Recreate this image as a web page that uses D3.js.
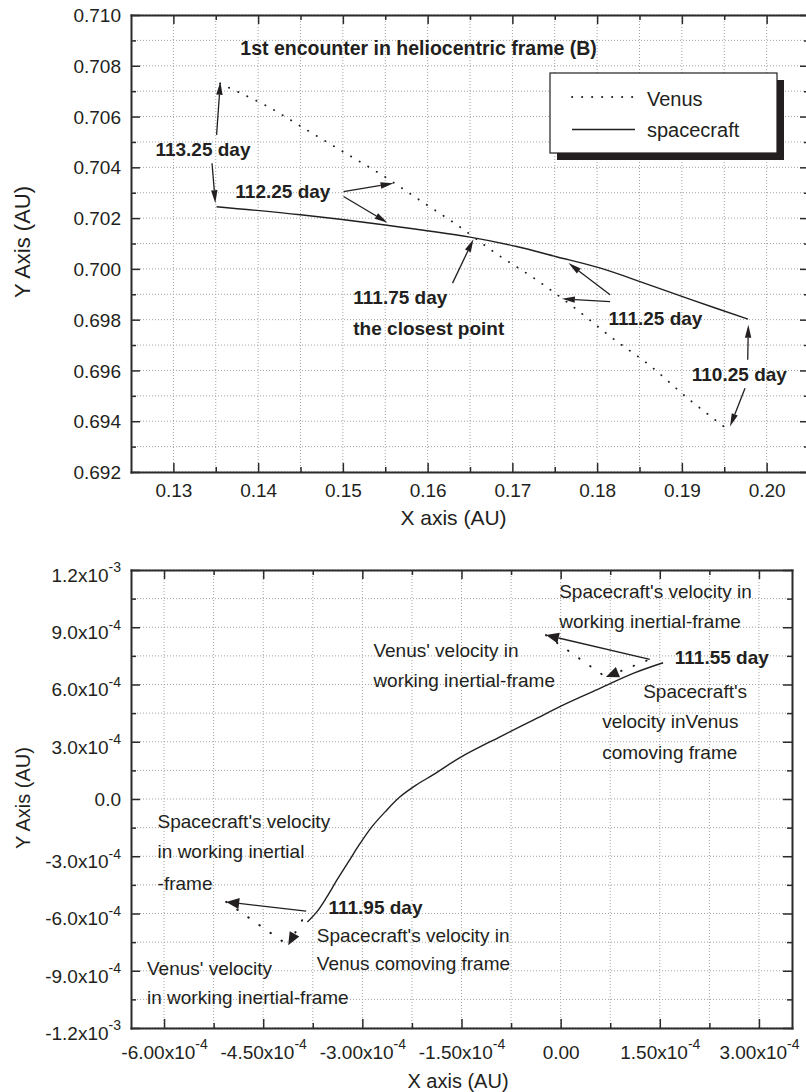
<!DOCTYPE html>
<html>
<head>
<meta charset="utf-8">
<script src="https://cdn.jsdelivr.net/npm/d3@7"></script>
<style>
  body { margin: 0; background: #fff; }
  svg { display: block; }
  text { font-family: 'Liberation Sans', Arial, Helvetica, sans-serif; fill: #231f20; }
  .grid line { stroke: #a3a3a3; stroke-width: 1; stroke-dasharray: 1 2; }
  .frame path.domain { stroke: #2b2b2b; stroke-width: 2; stroke-linecap: square; }
  .frame .tick line { stroke: #2b2b2b; stroke-width: 1.5; }
</style>
</head>
<body>
<svg class="chart" width="806" height="1092"></svg>
<script>
const chart = d3.select('.chart');

// top panel, heliocentric positions (AU)
const venusX = [0.1355, 0.1411, 0.1456, 0.1501, 0.1546, 0.1591, 0.1636, 0.1681, 0.1727, 0.1772, 0.1817, 0.1862, 0.1907, 0.1953];
const venusY = [0.7073, 0.7064, 0.7055, 0.7046, 0.7037, 0.7027, 0.7017, 0.7006, 0.6996, 0.6985, 0.6973, 0.6962, 0.6949, 0.6937];
const craftX = [0.1351, 0.1450, 0.1550, 0.1650, 0.1705, 0.1752, 0.1804, 0.1843, 0.1910, 0.1978];
const craftY = [0.70245, 0.70213, 0.70173, 0.70125, 0.70088, 0.70048, 0.70003, 0.69959, 0.69880, 0.69802];
const topXTicks = [0.13, 0.14, 0.15, 0.16, 0.17, 0.18, 0.19, 0.20];
const topXMinor = [0.135, 0.145, 0.155, 0.165, 0.175, 0.185, 0.195];
const topXLabels = ['0.13', '0.14', '0.15', '0.16', '0.17', '0.18', '0.19', '0.20'];
const topYTicks = [0.692, 0.694, 0.696, 0.698, 0.700, 0.702, 0.704, 0.706, 0.708, 0.710];
const topYMinor = [0.693, 0.695, 0.697, 0.699, 0.701, 0.703, 0.705, 0.707, 0.709];
const topYLabels = ['0.692', '0.694', '0.696', '0.698', '0.700', '0.702', '0.704', '0.706', '0.708', '0.710'];

// bottom panel, spacecraft relative to Venus (AU)
const relX = [-3.831e-4, -3.689e-4, -3.537e-4, -3.386e-4, -3.211e-4, -3.034e-4, -2.857e-4, -2.656e-4, -2.430e-4, -2.188e-4, -1.926e-4, -1.523e-4, -0.918e-4, -0.415e-4, 0.090e-4, 0.594e-4, 1.097e-4, 1.550e-4];
const relY = [-6.442e-4, -5.917e-4, -5.131e-4, -4.255e-4, -3.296e-4, -2.331e-4, -1.460e-4, -0.674e-4, 0.113e-4, 0.727e-4, 1.274e-4, 2.168e-4, 3.259e-4, 4.135e-4, 5.010e-4, 5.797e-4, 6.583e-4, 7.139e-4];
const botXTicks = [-6e-4, -4.5e-4, -3e-4, -1.5e-4, 0, 1.5e-4, 3e-4];
const botXMinor = [-5.25e-4, -3.75e-4, -2.25e-4, -0.75e-4, 0.75e-4, 2.25e-4];
const botXLabels = ['-6.00x10^-4', '-4.50x10^-4', '-3.00x10^-4', '-1.50x10^-4', '0.00', '1.50x10^-4', '3.00x10^-4'];
const botYTicks = [-1.2e-3, -9e-4, -6e-4, -3e-4, 0, 3e-4, 6e-4, 9e-4, 1.2e-3];
const botYMinor = [-1.05e-3, -7.5e-4, -4.5e-4, -1.5e-4, 1.5e-4, 4.5e-4, 7.5e-4, 1.05e-3];
const botYLabels = ['-1.2x10^-3', '-9.0x10^-4', '-6.0x10^-4', '-3.0x10^-4', '0.0', '3.0x10^-4', '6.0x10^-4', '9.0x10^-4', '1.2x10^-3'];

// annotations, in data units
const topNotes = [
    ['1st encounter in heliocentric frame (B)', 0.13790, 0.70843],
    ['113.25 day', 0.12788, 0.70445],
    ['112.25 day', 0.13731, 0.70278],
    ['111.75 day', 0.15123, 0.69862],
    ['the closest point', 0.15123, 0.69740],
    ['111.25 day', 0.18133, 0.69780],
    ['110.25 day', 0.19117, 0.69559]
];
const topArrows = [
    [[0.13510, 0.70528], [0.13554, 0.70737]],
    [[0.13456, 0.70416], [0.13495, 0.70259]],
    [[0.15008, 0.70304], [0.15598, 0.70337]],
    [[0.15008, 0.70285], [0.15527, 0.70182]],
    [[0.16294, 0.69944], [0.16541, 0.70117]],
    [[0.18153, 0.69898], [0.17662, 0.70023]],
    [[0.18153, 0.69871], [0.17584, 0.69882]],
    [[0.19777, 0.69642], [0.19784, 0.69780]],
    [[0.19745, 0.69530], [0.19568, 0.69379]]
];
const botNotes = [
    ["Spacecraft's velocity in", -0.022e-4, 1.0532e-3, false],
    ['working inertial-frame', -0.022e-4, 8.959e-4, false],
    ["Venus' velocity in", -2.833e-4, 7.454e-4, false],
    ['working inertial-frame', -2.833e-4, 5.849e-4, false],
    ['111.55 day', 1.727e-4, 7.071e-4, true],
    ["Spacecraft's", 1.248e-4, 5.272e-4, false],
    ['velocity inVenus', 0.628e-4, 3.699e-4, false],
    ['comoving frame', 0.628e-4, 2.074e-4, false],
    ["Spacecraft's velocity", -6.098e-4, -1.544e-4, false],
    ['in working inertial', -6.098e-4, -3.117e-4, false],
    ['-frame', -6.098e-4, -4.743e-4, false],
    ['111.95 day', -3.513e-4, -6.001e-4, true],
    ["Spacecraft's velocity in", -3.689e-4, -7.490e-4, false],
    ['Venus comoving frame', -3.689e-4, -8.974e-4, false],
    ["Venus' velocity", -6.258e-4, -9.237e-4, false],
    ['in working inertial-frame', -6.258e-4, -1.0757e-3, false]
];
// [from, to, dotted, head]
const botArrows = [
    [[1.349e-4, 7.317e-4], [-0.223e-4, 8.592e-4], false, true],
    [[1.300e-4, 7.250e-4], [0.684e-4, 6.389e-4], true, true],
    [[-0.223e-4, 8.592e-4], [0.684e-4, 6.389e-4], true, false],
    [[-3.850e-4, -5.881e-4], [-5.060e-4, -5.393e-4], false, true],
    [[-3.911e-4, -6.353e-4], [-4.122e-4, -7.664e-4], true, true],
    [[-5.060e-4, -5.393e-4], [-4.122e-4, -7.664e-4], true, false]
];

const topX = d3.scaleLinear().domain([0.125, 0.205]).range([131, 809]);
const topY = d3.scaleLinear().domain([0.692, 0.710]).range([472, 15]);
const botX = d3.scaleLinear().domain([-6.5e-4, 3.5e-4]).range([131, 792]);
const botY = d3.scaleLinear().domain([-1.2e-3, 1.2e-3]).range([1028, 570]);

const superscript = sel => sel.selectAll('text').each(function () {
    const t = d3.select(this);
    const [base, exp] = t.text().split('^');
    if (exp) {
        t.text(base);
        t.append('tspan').attr('dy', -9.5).attr('font-size', 14).text(exp);
        t.classed('sup', true);
    }
});

const drawPanel = (x, y, xTicks, xMinor, yTicks, yMinor, xLabels, yLabels, xPad) => {
    const [left, right] = x.range();
    const [bottom, top] = y.range();
    const g = chart.append('g');

    const grid = g.append('g').attr('class', 'grid');
    grid.append('g').selectAll('line').data(xTicks.concat(xMinor)).join('line')
        .attr('x1', d => x(d)).attr('x2', d => x(d)).attr('y1', top).attr('y2', bottom);
    grid.append('g').selectAll('line').data(yTicks.concat(yMinor)).join('line')
        .attr('y1', d => y(d)).attr('y2', d => y(d)).attr('x1', left).attr('x2', right);

    const frame = g.append('g').attr('class', 'frame');
    const sides = [
        [d3.axisTop(x), xTicks, xMinor, `translate(0,${bottom})`],
        [d3.axisBottom(x), xTicks, xMinor, `translate(0,${top})`],
        [d3.axisRight(y), yTicks, yMinor, `translate(${left},0)`],
        [d3.axisLeft(y), yTicks, yMinor, `translate(${right},0)`]
    ];
    sides.forEach(([axis, major, minor, tr]) => {
        frame.append('g').attr('transform', tr)
            .call(axis.tickValues(minor).tickSize(5).tickSizeOuter(0).tickFormat(''))
            .select('.domain').remove();
        frame.append('g').attr('transform', tr)
            .call(axis.tickValues(major).tickSize(9).tickSizeOuter(0).tickFormat(''));
    });

    const xl = g.append('g').attr('transform', `translate(0,${bottom})`)
        .call(d3.axisBottom(x).tickValues(xTicks).tickSize(0).tickPadding(xPad).tickFormat((d, i) => xLabels[i]));
    xl.select('.domain').remove();
    xl.attr('font-size', 19).attr('font-family', null);
    superscript(xl);

    const yl = g.append('g').attr('transform', `translate(${left},0)`)
        .call(d3.axisLeft(y).tickValues(yTicks).tickSize(0).tickPadding(10).tickFormat((d, i) => yLabels[i]));
    yl.select('.domain').remove();
    yl.attr('font-size', 19).attr('font-family', null);
    superscript(yl);
    yl.selectAll('text').attr('dy', function () { return d3.select(this).classed('sup') ? '0.6em' : '0.35em'; });
    return g;
};

const arrow = (g, p1, p2, opt) => {
    const [x1, y1] = p1, [x2, y2] = p2;
    const a = Math.atan2(y2 - y1, x2 - x1);
    const bx = opt.head ? x2 - opt.len * Math.cos(a) : x2;
    const by = opt.head ? y2 - opt.len * Math.sin(a) : y2;
    g.append('line')
        .attr('x1', x1).attr('y1', y1).attr('x2', bx).attr('y2', by)
        .attr('stroke', '#231f20')
        .attr('stroke-width', opt.dotted ? 2 : 1.3)
        .attr('stroke-linecap', opt.dotted ? 'round' : 'butt')
        .attr('stroke-dasharray', opt.dotted ? '0.5 13' : null);
    if (opt.head) {
        const s = Math.sin(a), c = Math.cos(a);
        g.append('path')
            .attr('d', `M${x2},${y2}L${bx + opt.half * s},${by - opt.half * c}L${bx - opt.half * s},${by + opt.half * c}Z`)
            .attr('fill', '#231f20');
    }
};

const note = (g, txt, x, y, bold, size) => g.append('text')
    .attr('x', x).attr('y', y)
    .attr('font-size', size || 19)
    .attr('font-weight', bold ? 'bold' : 'normal')
    .text(txt);

// ---- top panel
const topG = drawPanel(topX, topY, topXTicks, topXMinor, topYTicks, topYMinor, topXLabels, topYLabels, 11.5);

const topLine = d3.line().curve(d3.curveCatmullRom.alpha(0.5)).x(d => topX(d[0])).y(d => topY(d[1]));
topG.append('path').datum(d3.zip(venusX, venusY))
    .attr('d', topLine).attr('fill', 'none')
    .attr('stroke', '#231f20').attr('stroke-width', 1.8)
    .attr('stroke-linecap', 'round').attr('stroke-dasharray', '0.3 9.7');
topG.append('path').datum(d3.zip(craftX, craftY))
    .attr('d', topLine).attr('fill', 'none')
    .attr('stroke', '#231f20').attr('stroke-width', 1.4);

topArrows.forEach(([p, q]) => arrow(topG, [topX(p[0]), topY(p[1])], [topX(q[0]), topY(q[1])],
    { head: true, len: 13, half: 3.2, dotted: false }));
topNotes.forEach(([t, x, y], i) => note(topG, t, topX(x), topY(y), true, i === 0 ? 19.5 : 19));

const legend = topG.append('g').attr('transform', 'translate(550,73)');
legend.append('rect').attr('x', 7).attr('y', 7).attr('width', 227).attr('height', 80).attr('fill', '#231f20');
legend.append('rect').attr('width', 227).attr('height', 80).attr('fill', '#fff').attr('stroke', '#231f20').attr('stroke-width', 1.2);
legend.append('line').attr('x1', 22).attr('x2', 85).attr('y1', 24).attr('y2', 24)
    .attr('stroke', '#231f20').attr('stroke-width', 1.8).attr('stroke-linecap', 'round').attr('stroke-dasharray', '0.3 9.7');
legend.append('line').attr('x1', 22).attr('x2', 85).attr('y1', 56.5).attr('y2', 56.5)
    .attr('stroke', '#231f20').attr('stroke-width', 1.4);
note(legend, 'Venus', 97, 33, false, 20);
note(legend, 'spacecraft', 97, 63.5, false, 20);

topG.append('text').attr('x', 453.5).attr('y', 525).attr('text-anchor', 'middle').attr('font-size', 21).text('X axis (AU)');
topG.append('text').attr('transform', 'translate(22,242) rotate(-90)').attr('dy', '0.35em')
    .attr('text-anchor', 'middle').attr('font-size', 22).text('Y Axis (AU)');

// ---- bottom panel
const botG = drawPanel(botX, botY, botXTicks, botXMinor, botYTicks, botYMinor, botXLabels, botYLabels, 17.5);

const botLine = d3.line().curve(d3.curveCatmullRom.alpha(0.5)).x(d => botX(d[0])).y(d => botY(d[1]));
botG.append('path').datum(d3.zip(relX, relY))
    .attr('d', botLine).attr('fill', 'none')
    .attr('stroke', '#231f20').attr('stroke-width', 1.4);

botArrows.forEach(([p, q, dotted, head]) => arrow(botG, [botX(p[0]), botY(p[1])], [botX(q[0]), botY(q[1])],
    { head, dotted, len: 13, half: 5.5 }));
botNotes.forEach(([t, x, y, bold]) => note(botG, t, botX(x), botY(y), bold, 19));

botG.append('text').attr('x', 458).attr('y', 1088).attr('text-anchor', 'middle').attr('font-size', 20).text('X axis (AU)');
botG.append('text').attr('transform', 'translate(23,798) rotate(-90)').attr('dy', '0.35em')
    .attr('text-anchor', 'middle').attr('font-size', 20).text('Y Axis (AU)');
</script>
</body>
</html>
